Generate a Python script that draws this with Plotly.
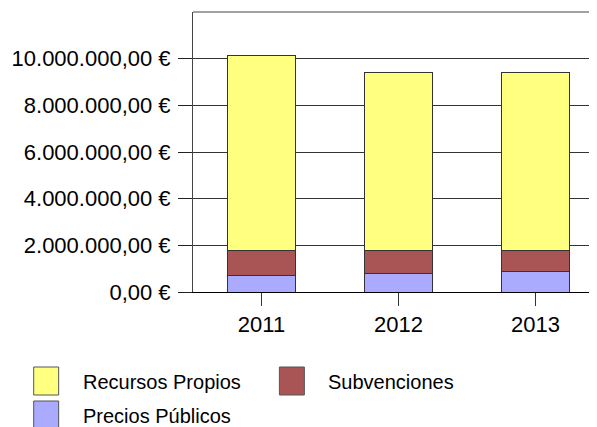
import plotly.graph_objects as go

# data
years = ["2011", "2012", "2013"]
precios_publicos = [720000, 800000, 860000]
subvenciones = [1080000, 970000, 910000]
recursos_propios = [8340000, 7650000, 7650000]

ytick_vals = [0, 2000000, 4000000, 6000000, 8000000, 10000000]
ytick_text = ["0,00 €", "2.000.000,00 €", "4.000.000,00 €", "6.000.000,00 €",
              "8.000.000,00 €", "10.000.000,00 €"]

legend_names = ["Recursos Propios", "Subvenciones", "Precios Públicos"]

YELLOW = "#FFFF80"
RED = "#AA5555"
BLUE = "#AAAAFF"
FONT = "Arial, Liberation Sans, sans-serif"

# page has an 8px body margin, so work in figure pixels = screen - 8
OFF = 8
W, H = 597, 427
L, R, T, B = 192.5 - OFF, 604 - OFF, 12 - OFF, 292 - OFF


def px(x):
    return (x - OFF - L) / (R - L)


def py(y):
    return (B - (y - OFF)) / (B - T)


fig = go.Figure()
for name, vals, col in [("Precios Públicos", precios_publicos, BLUE),
                        ("Subvenciones", subvenciones, RED),
                        ("Recursos Propios", recursos_propios, YELLOW)]:
    fig.add_trace(go.Bar(
        x=years, y=vals, name=name, width=0.5,
        marker=dict(color=col, line=dict(color="#333333", width=1)),
        showlegend=False))

# legend drawn by hand: big square swatches (screen pixel positions)
legend_spots = [(33, 367, legend_names[0], YELLOW),
                (279, 367, legend_names[1], RED),
                (33, 401, legend_names[2], BLUE)]
shapes = []
annotations = []
for x0, y0, name, col in legend_spots:
    shapes.append(dict(type="rect", xref="paper", yref="paper",
                       x0=px(x0), x1=px(x0 + 25), y0=py(y0), y1=py(y0 + 28),
                       fillcolor=col, line=dict(color="#555555", width=1)))
    annotations.append(dict(xref="paper", yref="paper", x=px(x0 + 47),
                            y=py(y0 + 15), text=name, showarrow=False,
                            xanchor="left", yanchor="middle",
                            font=dict(family=FONT, size=20, color="black")))

# top frame line
shapes.append(dict(type="line", xref="paper", yref="paper", x0=0, x1=1,
                   y0=1, y1=1, line=dict(color="#444444", width=1)))

fig.update_layout(
    barmode="stack",
    width=W, height=H,
    margin=dict(l=L, r=W - R, t=T, b=H - B),
    plot_bgcolor="white", paper_bgcolor="white",
    font=dict(family=FONT, size=22, color="black"),
    shapes=shapes, annotations=annotations,
    xaxis=dict(range=[-0.5, 2.5], showline=True, linecolor="black",
               linewidth=1, ticks="outside", ticklen=13, tickcolor="#333333",
               showgrid=False, tickfont=dict(size=22)),
    yaxis=dict(range=[0, 12000000], tickvals=ytick_vals, ticktext=ytick_text,
               showline=True, linecolor="#444444", linewidth=1,
               ticks="outside", ticklen=14, tickcolor="#222222",
               showgrid=True, gridcolor="#333333", gridwidth=1,
               zeroline=False, tickfont=dict(size=22),
               ticklabelstandoff=3),
)

fig.write_html("out.html")
